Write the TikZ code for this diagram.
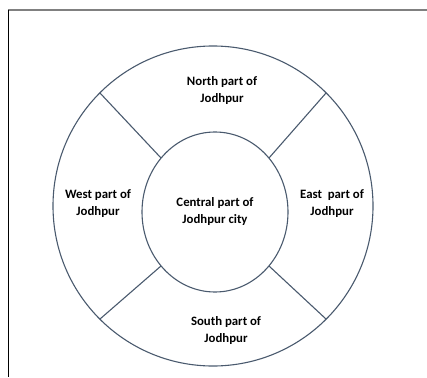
\documentclass[tikz,border=0pt]{standalone}
\usepackage{fontspec}
\setmainfont{Carlito}
\usepackage{xcolor}
\usepackage{tikz}
\usetikzlibrary{shapes.geometric}
\definecolor{ringline}{HTML}{4A5A6E}
\definecolor{framegray}{HTML}{808080}
\tikzset{
    ring/.style={circle, draw=ringline, line width=1.1pt, inner sep=0pt, outer sep=0pt, minimum size=320pt},
    core/.style={ellipse, draw=ringline, line width=1.1pt, inner sep=0pt, outer sep=0pt, minimum width=146pt, minimum height=160pt, align=center, font=\fontsize{12.8}{17}\selectfont\bfseries},
    divider/.style={draw=ringline, line width=1.1pt},
    part/.style={align=center, font=\fontsize{12.8}{17}\selectfont\bfseries}
}

\begin{document}
\begin{tikzpicture}[x=1pt, y=-1pt]
\useasboundingbox (0,0) rectangle (427,377);

% Page frame
\draw[framegray, line width=1.5pt] (8,10) -- (427,10);
\draw[black, line width=1pt] (8,10) -- (8,377);

% Outer ring and centre
\node[ring] (outer) at (213,206) {};
\node[core] (central) at (215,212) {Central part of\\Jodhpur city};

% Dividers between the parts
\foreach \a in {45,135,225,315} {
    \draw[divider] (central.\a) -- (outer.\a);
}

% Parts of the city
\node[part] (north) at (222,91) {North part of\\Jodhpur};
\node[part] (west) at (98,204) {West part of\\Jodhpur};
\node[part] (east) at (332,204) {East\ \ part of\\Jodhpur};
\node[part] (south) at (226,331) {South part of\\Jodhpur};
\end{tikzpicture}
\end{document}
